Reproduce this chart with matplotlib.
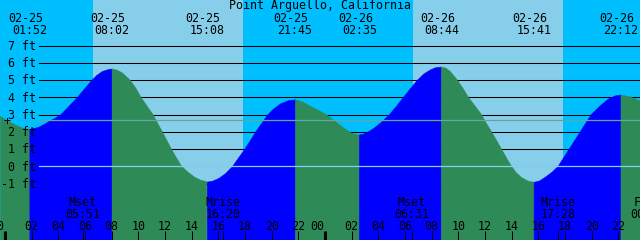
import matplotlib
matplotlib.use('Agg')
import numpy as np
import matplotlib.pyplot as plt

title = 'Point Arguello, California'

# high / low tide events listed along the top
tide_dates = ['02-25', '02-25', '02-25', '02-25', '02-26', '02-26', '02-26', '02-26']
tide_times = ['01:52', '08:02', '15:08', '21:45', '02:35', '08:44', '15:41', '22:12']

# tide curve (hours after 02-25 00:00, feet)
curve_hours = [-0.375, 0.1, 0.55, 1.0, 1.46, 1.867,
               2.5, 3.0, 3.3, 3.75, 4.2, 4.8, 5.44, 6.0, 6.53, 6.9, 7.3, 7.7, 8.033,
               8.4, 8.8, 9.38, 9.8, 10.2, 10.65, 11.1, 11.45, 11.8, 12.48, 12.85,
               13.25, 13.7, 14.2, 14.65, 15.133,
               15.55, 16.0, 16.5, 17.01, 17.47, 17.93, 18.35, 18.75, 19.2, 19.65,
               20.1, 20.63, 21.2, 21.75,
               22.3, 22.88, 23.5, 24.11, 24.7, 25.35, 25.95, 26.583,
               26.9, 27.26, 27.7, 28.3, 28.84, 29.38, 29.89, 30.4, 30.94, 31.4,
               31.9, 32.3, 32.733,
               33.05, 33.4, 33.93, 34.35, 34.76, 35.25, 35.74, 36.1, 36.49, 36.87,
               37.24, 37.6, 37.99, 38.35, 38.74, 39.2, 39.683,
               40.1, 40.59, 41.05, 41.49, 41.9, 42.32, 42.73, 43.15, 43.55, 43.97,
               44.6, 45.25, 45.75, 46.2,
               46.9, 47.625]
curve_ft = [2.92, 2.68, 2.5, 2.33, 2.2, 2.15,
            2.25, 2.45, 2.6, 2.78, 3.0, 3.48, 4.0, 4.52, 5.0, 5.28, 5.5, 5.6, 5.65,
            5.58, 5.42, 5.0, 4.55, 4.0, 3.5, 3.0, 2.5, 2.0, 1.0, 0.5,
            0.0, -0.33, -0.62, -0.8, -0.89,
            -0.83, -0.68, -0.4, 0.0, 0.5, 1.0, 1.5, 2.0, 2.5, 3.0,
            3.35, 3.65, 3.83, 3.89,
            3.76, 3.5, 3.27, 3.0, 2.65, 2.26, 1.95, 1.82,
            1.87, 2.0, 2.22, 2.6, 3.0, 3.5, 4.0, 4.5, 5.0, 5.35,
            5.59, 5.72, 5.76,
            5.7, 5.5, 5.0, 4.52, 4.0, 3.5, 3.0, 2.5, 2.0, 1.5,
            1.0, 0.5, 0.0, -0.38, -0.65, -0.85, -0.93,
            -0.85, -0.6, -0.33, 0.0, 0.5, 1.0, 1.5, 2.0, 2.5, 3.0,
            3.48, 3.9, 4.08, 4.14,
            4.02, 3.8]

# daylight (day index, sunrise, sunset)
sun_days = [0, 1]
sunrise = ['06:37', '06:37']
sunset = ['17:52', '17:52']

# moon events along the bottom
moon_labels = ['Mset', 'Mrise', 'Mset', 'Mrise', 'Full']
moon_days = [0, 0, 1, 1, 2]
moon_times = ['05:51', '16:20', '06:31', '17:28', '00:14']

ft_levels = [-1, 0, 1, 2, 3, 4, 5, 6, 7]
mid_level = 2.66
hour_ticks = list(range(0, 48, 2))

NIGHT = '#00BFFF'
DAY = '#87CEEB'
RISE = '#0000FF'
FALL = '#2E8B57'

W, H = 640, 240
PX = 48.0 / W  # hours per pixel


def hours(day, hhmm):
    hh, mm = hhmm.split(':')
    return 24 * day + int(hh) + int(mm) / 60.0


def ypx(y):
    return 1 - y / H


plt.rcParams['font.family'] = ['DejaVu Sans Mono']
fs = 8.4

fig = plt.figure(figsize=(6.4, 2.4), dpi=100)
ax = fig.add_axes([0, 0, 1, 1])
ax.set_xlim(-0.375, 47.625)
ax.set_ylim(-4.277, 9.652)
ax.axis('off')
xt = ax.get_xaxis_transform()
yt = ax.get_yaxis_transform()

# sky: night everywhere, daylight bands on top
ax.axvspan(-1, 49, color=NIGHT, lw=0, zorder=0)
for d, r, s in zip(sun_days, sunrise, sunset):
    ax.axvspan(hours(d, r), hours(d, s), color=DAY, lw=0, zorder=0)

# height grid lines (hidden behind the water)
for v in ft_levels:
    ax.axhline(v, xmin=39 / W, color='black', lw=0.75, zorder=1)

# water, coloured by rising / falling
t = np.array(curve_hours)
h = np.array(curve_ft)
ext = [hours(int(d[-2:]) - 25, tm) for d, tm in zip(tide_dates, tide_times)]
bounds = [t[0]] + ext + [t[-1]]
for a, b in zip(bounds[:-1], bounds[1:]):
    m = (t >= a - 1e-3) & (t <= b + 1e-3)
    col = RISE if h[m][-1] > h[m][0] else FALL
    ax.fill_between(t[m], h[m], -10, facecolor=col, edgecolor=col, lw=0.4, zorder=2)

# datum and mid level lines
ax.axhline(0, xmin=39 / W, color=DAY, lw=0.9, zorder=3)
ax.axhline(mid_level, xmin=39 / W, color='#60A89C', lw=0.9, zorder=3)
ax.text(7 / W, ypx(125.2), '+', ha='center', va='baseline', fontsize=fs,
        transform=ax.transAxes, zorder=4)

# left labels
for v in ft_levels:
    ax.text(36 / W, v - 4.2 / 17.23, '%d ft' % v, ha='right', va='baseline',
            fontsize=fs, transform=yt, zorder=4)

# title and tide event labels
ax.text(0.5, ypx(9.3), title, ha='center', va='baseline', fontsize=fs,
        transform=ax.transAxes, zorder=4)
for x, d, tm in zip(ext, tide_dates, tide_times):
    ax.text(x - 4 * PX, ypx(21.7), d, ha='center', va='baseline', fontsize=fs,
            transform=xt, zorder=4)
    ax.text(x, ypx(34.3), tm, ha='center', va='baseline', fontsize=fs,
            transform=xt, zorder=4)

# hour ticks along the bottom
for hr in hour_ticks:
    midnight = hr % 24 == 0
    ax.vlines(hr, 0, 9 / H, color='black', lw=2.2 if midnight else 0.75,
              transform=xt, zorder=4)
    xl = hr - 8 * PX if midnight else hr
    ax.text(xl, ypx(230), '%02d' % (hr % 24), ha='center', va='baseline',
            fontsize=fs, transform=xt, zorder=4)

# moon events
for lab, d, tm in zip(moon_labels, moon_days, moon_times):
    x = hours(d, tm)
    ax.vlines(x, 0, 9 / H, color='black', lw=0.75, transform=xt, zorder=4)
    ax.text(x, ypx(206), lab, ha='center', va='baseline', fontsize=fs,
            transform=xt, zorder=4)
    ax.text(x, ypx(218.3), tm, ha='center', va='baseline', fontsize=fs,
            transform=xt, zorder=4)

fig.savefig('out.png', dpi=100)
